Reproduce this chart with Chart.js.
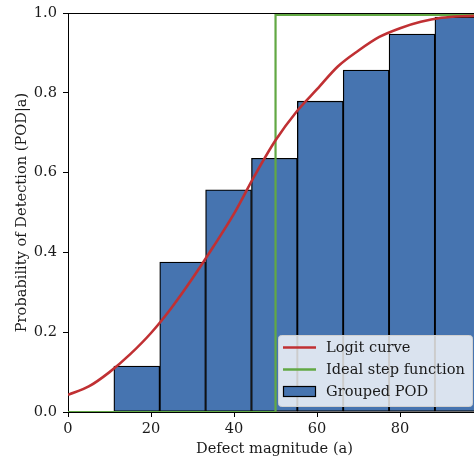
<!DOCTYPE html>
<html>
<head>
<meta charset="utf-8">
<script src="https://cdn.jsdelivr.net/npm/chart.js@4/dist/chart.umd.min.js"></script>
<style>
  html, body { margin: 0; padding: 0; background: #fff; overflow: hidden; }
  #wrap { width: 500px; height: 459px; }
</style>
</head>
<body>
<div id="wrap"><canvas id="podChart"></canvas></div>
<script>
// histogram bins (defect magnitude) and the POD per bin
const binEdges = [0, 11.05, 22.1, 33.15, 44.2, 55.25, 66.3, 77.35, 88.4, 99.45];
const groupedPod = [0, 0.115, 0.376, 0.557, 0.636, 0.779, 0.857, 0.947, 0.99];

// fitted logit curve, sampled
const logitX = [0, 5, 10, 15, 20, 25, 30, 35, 40, 45, 50, 55, 60, 65, 70, 75, 80, 85, 90, 95, 99.5];
const logitY = [0.043, 0.064, 0.100, 0.145, 0.198, 0.262, 0.335, 0.414, 0.497, 0.593, 0.681,
                0.752, 0.809, 0.866, 0.906, 0.940, 0.962, 0.978, 0.988, 0.992, 0.993];

// ideal step at a = 50
const stepX = [0, 50, 50, 99.5];
const stepY = [0, 0, 0.995, 0.995];

const xTicks = [0, 20, 40, 60, 80];
const yTicks = [0, 0.2, 0.4, 0.6, 0.8, 1.0];

const FONT = "'DejaVu Serif', serif";
const FSIZE = 14.6;
const BLUE = '#4674b0';
const RED = '#c03033';
const GREEN = '#62a844';

const barData = groupedPod.map((v, i) => ({ x: (binEdges[i] + binEdges[i + 1]) / 2, y: v }));
const logitData = logitX.map((x, i) => ({ x: x, y: logitY[i] }));
const stepData = stepX.map((x, i) => ({ x: x, y: stepY[i] }));

// top spine + boxed legend drawn over the chart area
const extras = {
  id: 'extras',
  afterDraw(chart) {
    const ctx = chart.ctx;
    const a = chart.chartArea;
    ctx.save();
    ctx.strokeStyle = '#000';
    ctx.lineWidth = 1;
    ctx.beginPath();
    ctx.moveTo(a.left, a.top + 0.5);
    ctx.lineTo(a.right, a.top + 0.5);
    ctx.stroke();

    // legend box
    const bx = 278.5, by = 335.5, bw = 194, bh = 71;
    ctx.beginPath();
    ctx.roundRect(bx, by, bw, bh, 3);
    ctx.fillStyle = 'rgba(255,255,255,0.8)';
    ctx.fill();
    ctx.strokeStyle = '#d0d0d0';
    ctx.lineWidth = 1;
    ctx.stroke();

    const items = [
      { label: 'Logit curve', kind: 'line', color: RED },
      { label: 'Ideal step function', kind: 'line', color: GREEN },
      { label: 'Grouped POD', kind: 'patch', color: BLUE }
    ];
    ctx.font = FSIZE + 'px ' + FONT;
    ctx.textBaseline = 'middle';
    items.forEach((it, i) => {
      const cy = 347.5 + i * 22;
      if (it.kind === 'line') {
        ctx.strokeStyle = it.color;
        ctx.lineWidth = 2.5;
        ctx.beginPath();
        ctx.moveTo(283, cy);
        ctx.lineTo(316, cy);
        ctx.stroke();
      } else {
        ctx.fillStyle = it.color;
        ctx.fillRect(283.5, cy - 5, 32, 10);
        ctx.strokeStyle = '#000';
        ctx.lineWidth = 1.2;
        ctx.strokeRect(283.5, cy - 5, 32, 10);
      }
      ctx.fillStyle = '#1a1a1a';
      ctx.fillText(it.label, 326, cy + 1);
    });
    ctx.restore();
  }
};

new Chart(document.getElementById('podChart'), {
  type: 'bar',
  data: {
    datasets: [
      {
        type: 'line',
        label: 'Logit curve',
        data: logitData,
        borderColor: RED,
        borderWidth: 2.6,
        pointRadius: 0,
        cubicInterpolationMode: 'monotone',
        order: 1
      },
      {
        type: 'line',
        label: 'Ideal step function',
        data: stepData,
        borderColor: GREEN,
        borderWidth: 2.2,
        pointRadius: 0,
        tension: 0,
        order: 2
      },
      {
        type: 'bar',
        label: 'Grouped POD',
        data: barData,
        backgroundColor: BLUE,
        borderColor: '#000',
        borderWidth: 1.3,
        borderSkipped: false,
        barPercentage: 1,
        categoryPercentage: 1,
        grouped: false,
        order: 3
      }
    ]
  },
  options: {
    responsive: true,
    maintainAspectRatio: false,
    animation: false,
    layout: { padding: { top: 13, right: 19, left: 0, bottom: 0 } },
    plugins: {
      legend: { display: false },
      tooltip: { enabled: false }
    },
    scales: {
      x: {
        type: 'linear',
        offset: false,
        min: 0,
        max: 99.5,
        afterBuildTicks: (s) => { s.ticks = xTicks.map(v => ({ value: v })); },
        afterFit: (s) => { s.height = 47; s.paddingLeft = 0; s.paddingRight = 0; },
        ticks: {
          font: { family: FONT, size: FSIZE },
          color: '#1a1a1a',
          padding: 3,
          maxRotation: 0
        },
        grid: { offset: false, drawOnChartArea: false, drawTicks: true, tickLength: 5, color: '#000' },
        border: { display: true, color: '#000', width: 1 },
        title: {
          display: true,
          text: 'Defect magnitude (a)',
          font: { family: FONT, size: FSIZE },
          color: '#1a1a1a',
          padding: { top: 0, bottom: 1 }
        }
      },
      y: {
        min: 0,
        max: 1,
        afterBuildTicks: (s) => { s.ticks = yTicks.map(v => ({ value: v })); },
        afterFit: (s) => { s.width = 68; s.paddingTop = 0; s.paddingBottom = 0; },
        ticks: {
          font: { family: FONT, size: FSIZE },
          color: '#1a1a1a',
          padding: 6,
          callback: (v) => Number(v).toFixed(1)
        },
        grid: { drawOnChartArea: false, drawTicks: true, tickLength: 5, color: '#000' },
        border: { display: true, color: '#000', width: 1 },
        title: {
          display: true,
          text: 'Probability of Detection (POD|a)',
          font: { family: FONT, size: FSIZE },
          color: '#1a1a1a',
          padding: { top: 13, bottom: 0 }
        }
      }
    }
  },
  plugins: [extras]
});
</script>
</body>
</html>
